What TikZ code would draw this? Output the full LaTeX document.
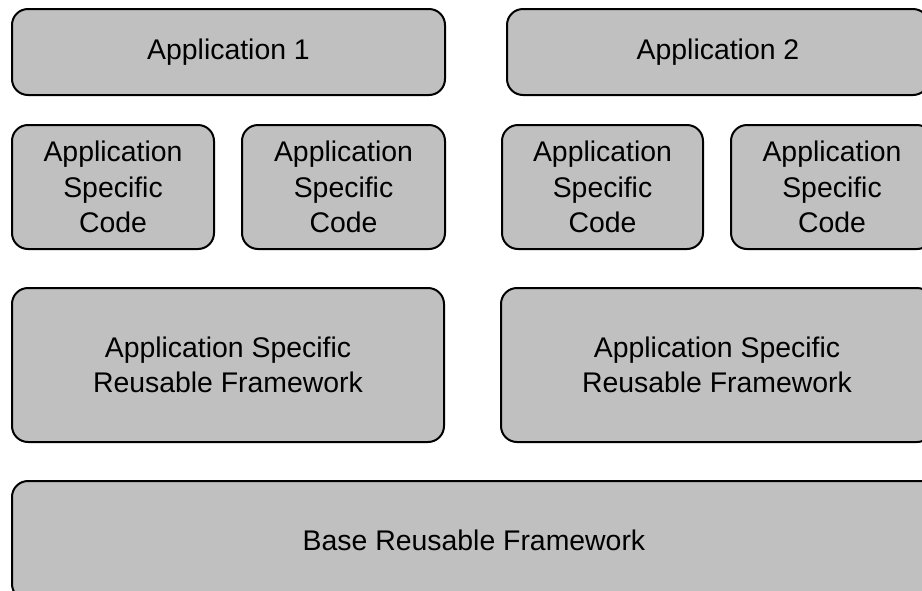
\documentclass[tikz,border=0pt]{standalone}
\usepackage{fontspec}
\setmainfont{Liberation Sans}
\usepackage{tikz}
\definecolor{boxgray}{HTML}{C0C0C0}
\tikzset{layerbox/.style n args={2}{
    draw=black, fill=boxgray, line width=1pt,
    rounded corners=8pt, align=center, inner sep=0pt,
    minimum width=#1*0.5pt, minimum height=#2*0.5pt,
    font=\fontsize{14.2}{17.6}\selectfont
  }
}

\begin{document}
\begin{tikzpicture}[x=0.5pt, y=-0.5pt]
      \useasboundingbox (0,0) rectangle (922,590);
      \clip (0,0) rectangle (922,590);
      \node[layerbox={433}{86}] (app1) at (228.5,52) {Application 1};
      \node[layerbox={422}{86}] (app2) at (718,52) {Application 2};
      \node[layerbox={202}{124}] (asc1) at (113,187) {Application\\Specific\\Code};
      \node[layerbox={203}{124}] (asc2) at (343.5,187) {Application\\Specific\\Code};
      \node[layerbox={201}{124}] (asc3) at (602.5,187) {Application\\Specific\\Code};
      \node[layerbox={202}{124}] (asc4) at (832,187) {Application\\Specific\\Code};
      \node[layerbox={432}{154}] (asrf1) at (228,365) {Application Specific\\Reusable Framework};
      \node[layerbox={432}{154}] (asrf2) at (717,365) {Application Specific\\Reusable Framework};
      \node[layerbox={924}{119}] (base) at (474,540.5) {Base Reusable Framework};
    \end{tikzpicture}
\end{document}
